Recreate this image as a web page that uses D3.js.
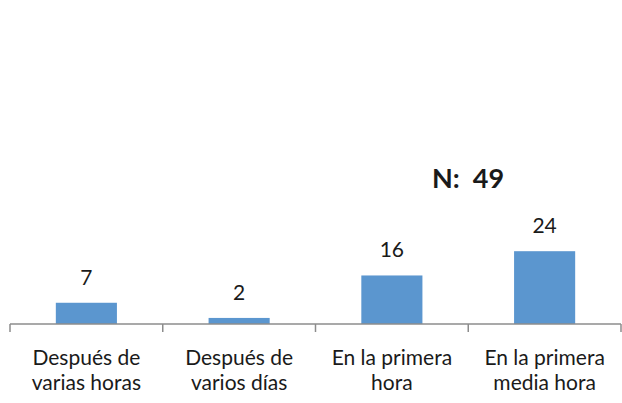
<!DOCTYPE html>
<meta charset="utf-8">
<style>
  body { margin: 0; background: #fff; }
  text { font-family: Lato, "Open Sans", sans-serif; fill: #1a1a1a; }
</style>
<body>
<div id="chart"></div>
<script src="https://d3js.org/d3.v7.min.js"></script>
<script>
  // data
  var categories = [["Después de", "varias horas"], ["Después de", "varios días"], ["En la primera", "hora"], ["En la primera", "media hora"]];
  var values = [7, 2, 16, 24];
  var note = "N:  49";

  var width = 622, height = 403;
  var axisY = 324;

  var svg = d3.select("#chart").append("svg")
    .attr("width", width)
    .attr("height", height);

  var idx = d3.range(values.length);

  var x = d3.scaleBand()
    .domain(idx)
    .range([10, 621])
    .paddingInner(0.6)
    .paddingOuter(0.3);

  var y = d3.scaleLinear()
    .domain([0, 30])
    .range([axisY, axisY - 91]);

  // bars
  svg.selectAll(".bar")
    .data(idx)
    .enter().append("rect")
    .attr("class", "bar")
    .attr("x", function(i) { return x(i); })
    .attr("y", function(i) { return y(values[i]); })
    .attr("width", x.bandwidth())
    .attr("height", function(i) { return y(0) - y(values[i]); })
    .attr("fill", "#5b96cf");

  // value labels
  svg.selectAll(".val")
    .data(idx)
    .enter().append("text")
    .attr("class", "val")
    .attr("x", function(i) { return x(i) + x.bandwidth() / 2; })
    .attr("y", function(i) { return y(values[i]) - 18; })
    .attr("text-anchor", "middle")
    .style("font-size", "21px")
    .text(function(i) { return values[i]; });

  // category axis: line plus ticks on band edges
  var step = x.step();
  var x0 = x.range()[0];
  var axis = svg.append("g").attr("stroke", "#8c8c8c").attr("stroke-width", 1.5);
  axis.append("line")
    .attr("x1", x0).attr("x2", x.range()[1])
    .attr("y1", axisY).attr("y2", axisY);
  axis.selectAll(".tick")
    .data(d3.range(values.length + 1))
    .enter().append("line")
    .attr("x1", function(k) { return x0 + k * step; })
    .attr("x2", function(k) { return x0 + k * step; })
    .attr("y1", axisY).attr("y2", axisY + 8);

  // two-line category labels, one text per line
  idx.forEach(function(i) {
    categories[i].forEach(function(s, j) {
      svg.append("text")
        .attr("class", "cat")
        .attr("x", x(i) + x.bandwidth() / 2)
        .attr("y", 365 + j * 25)
        .attr("text-anchor", "middle")
        .style("font-size", "21px")
        .text(s);
    });
  });

  svg.append("text")
    .attr("x", 468)
    .attr("y", 188)
    .attr("text-anchor", "middle")
    .style("font-size", "27px")
    .style("font-weight", "bold")
    .style("white-space", "pre")
    .attr("xml:space", "preserve")
    .text(note);
</script>
</body>
